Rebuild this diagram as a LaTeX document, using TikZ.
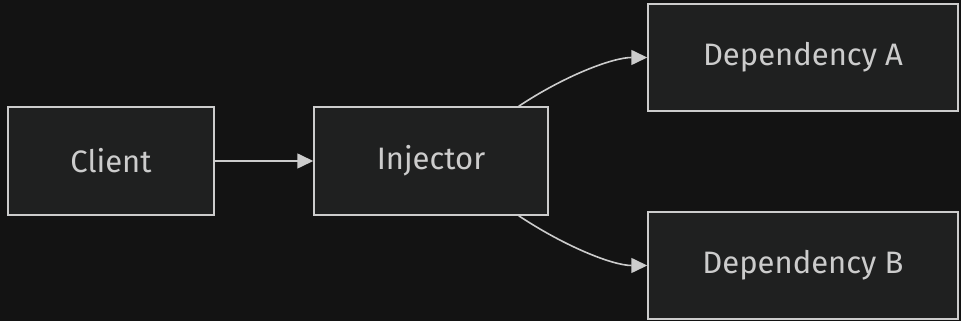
\documentclass[tikz,border=0pt]{standalone}
\usepackage{fontspec}
\setmainfont{Fira Sans}
\usetikzlibrary{arrows.meta}

\definecolor{bgcol}{HTML}{131313}
\definecolor{boxfill}{HTML}{1F2020}
\definecolor{linecol}{HTML}{CCCCCC}

\tikzset{
  box/.style={draw=linecol, fill=boxfill, line width=1.5pt, text=linecol,
    font=\fontsize{31}{34}\selectfont, inner sep=0pt},
  edge/.style={draw=linecol, line width=1.6pt,
    -{Triangle[length=16pt,width=15pt]}},
}

\begin{document}
\begin{tikzpicture}[x=1pt, y=1pt]
\fill[bgcol] (0,0) rectangle (961,321);
\useasboundingbox (0,0) rectangle (961,321);

% the four boxes
\node[box, minimum width=206pt, minimum height=108pt] (client) at (111,160) {Client};
\node[box, minimum width=234pt, minimum height=108pt] (inj) at (431,160) {Injector};
\node[box, minimum width=310pt, minimum height=107pt] (depA) at (803,263.5) {Dependency A};
\node[box, minimum width=310pt, minimum height=107pt] (depB) at (803,55.5) {Dependency B};

% connectors
\draw[edge] (client) -- (inj);
\draw[edge] ([xshift=-30pt]inj.north east) .. controls +(45,30) and +(-35,0) .. (depA.west);
\draw[edge] ([xshift=-30pt]inj.south east) .. controls +(45,-30) and +(-35,0) .. (depB.west);
\end{tikzpicture}
\end{document}
